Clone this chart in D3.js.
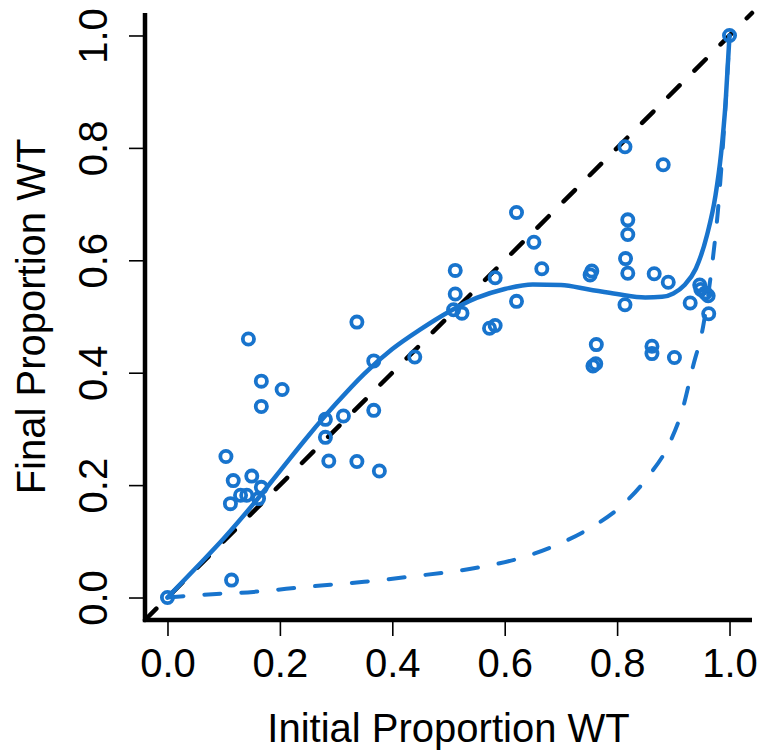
<!DOCTYPE html>
<html>
<head>
<meta charset="utf-8">
<script src="https://cdn.jsdelivr.net/npm/d3@7"></script>
<style>
body { margin: 0; background: #ffffff; }
svg { display: block; }
</style>
</head>
<body>
<svg id="chart"></svg>
<script>
var width = 761;
var height = 751;

var blue = "#1874CD";
var font = "'Liberation Sans', Arial, sans-serif";

// observed points (initial, final)
var initialWT = [0, 0.114, 0.104, 0.117, 0.112, 0.130, 0.141, 0.150, 0.162, 0.167,
	0.144, 0.167, 0.167, 0.204, 0.281, 0.281, 0.287, 0.313, 0.337, 0.337,
	0.367, 0.367, 0.377, 0.440, 0.512, 0.512, 0.509, 0.524, 0.573, 0.583,
	0.583, 0.621, 0.621, 0.652, 0.666, 0.752, 0.755, 0.757, 0.762, 0.763,
	0.814, 0.819, 0.819, 0.815, 0.819, 0.814, 0.882, 0.866, 0.891, 0.862,
	0.862, 0.902, 0.930, 0.947, 0.949, 0.957, 0.962, 0.963, 1];
var finalWT = [0, 0.031, 0.251, 0.208, 0.167, 0.182, 0.182, 0.216, 0.176, 0.196,
	0.460, 0.385, 0.340, 0.370, 0.317, 0.285, 0.243, 0.323, 0.490, 0.242,
	0.421, 0.333, 0.225, 0.428, 0.582, 0.540, 0.512, 0.506, 0.479, 0.484,
	0.569, 0.685, 0.527, 0.632, 0.585, 0.574, 0.581, 0.412, 0.416, 0.450,
	0.802, 0.672, 0.646, 0.603, 0.577, 0.521, 0.770, 0.576, 0.561, 0.447,
	0.434, 0.427, 0.524, 0.556, 0.548, 0.542, 0.537, 0.505, 1];

// fitted curve
var fitX = [0, 0.05, 0.10, 0.15, 0.20, 0.25, 0.30, 0.35, 0.40, 0.45,
	0.50, 0.55, 0.60, 0.65, 0.70, 0.75, 0.80, 0.85, 0.88, 0.90,
	0.92, 0.94, 0.96, 0.975, 0.985, 0.993, 1];
var fitY = [0, 0.052, 0.105, 0.163, 0.225, 0.287, 0.345, 0.398, 0.442, 0.477,
	0.508, 0.533, 0.549, 0.557, 0.556, 0.548, 0.540, 0.534, 0.535, 0.541,
	0.556, 0.585, 0.645, 0.715, 0.790, 0.880, 1];

// neutral expectation curve (dashed)
var nullX = [0, 0.08, 0.153, 0.247, 0.35, 0.431, 0.55, 0.62, 0.698, 0.751,
	0.81, 0.855, 0.893, 0.917, 0.935, 0.953, 0.970, 0.979, 0.990, 1];
var nullY = [0, 0.006, 0.010, 0.019, 0.028, 0.037, 0.053, 0.068, 0.096, 0.123,
	0.165, 0.215, 0.274, 0.337, 0.411, 0.482, 0.600, 0.684, 0.830, 1];

var ticks = [0, 0.2, 0.4, 0.6, 0.8, 1.0];

var svg = d3.select("#chart")
.attr("width", width)
.attr("height", height);

var x = d3.scaleLinear().domain([-0.04, 1.04]).range([145, 752]);
var y = d3.scaleLinear().domain([-0.04, 1.04]).range([620, 13]);

var fmt = d3.format(".1f");

// axes
var xAxis = svg.append("g")
.attr("transform", "translate(0," + y(-0.04) + ")")
.call(d3.axisBottom(x).tickValues(ticks).tickFormat(fmt).tickSize(16).tickSizeOuter(0));

var yAxis = svg.append("g")
.attr("transform", "translate(" + x(-0.04) + ",0)")
.call(d3.axisLeft(y).tickValues(ticks).tickFormat(fmt).tickSize(16).tickSizeOuter(0));

[xAxis, yAxis].forEach(function (g) {
	g.select(".domain").remove();
	g.selectAll(".tick line").attr("stroke", "#000").attr("stroke-width", 1.6);
	g.selectAll(".tick text")
	.attr("fill", "#000")
	.style("font-family", font)
	.style("font-size", "40px");
});

xAxis.selectAll(".tick text").attr("dy", null).attr("y", 57);

yAxis.selectAll(".tick text")
.attr("x", null).attr("dy", null)
.attr("text-anchor", "middle")
.attr("transform", "translate(-38,0) rotate(-90)");

// L-shaped box
svg.append("path")
.attr("d", "M" + x(-0.04) + "," + y(1.04) + "V" + y(-0.04) + "H" + x(1.04))
.attr("fill", "none")
.attr("stroke", "#000")
.attr("stroke-width", 4.5);

// axis titles
svg.append("text")
.attr("x", (x(-0.04) + x(1.04)) / 2)
.attr("y", 742)
.attr("text-anchor", "middle")
.style("font-family", font)
.style("font-size", "40px")
.text("Initial Proportion WT");

svg.append("text")
.attr("transform", "translate(45," + ((y(-0.04) + y(1.04)) / 2) + ") rotate(-90)")
.attr("text-anchor", "middle")
.style("font-family", font)
.style("font-size", "40px")
.text("Final Proportion WT");

// y = x reference
svg.append("line")
.attr("x1", x(-0.04)).attr("y1", y(-0.04))
.attr("x2", x(1.04)).attr("y2", y(1.04))
.attr("stroke", "#000")
.attr("stroke-width", 4.5)
.attr("stroke-linecap", "round")
.attr("stroke-dasharray", "16,21");

var line = d3.line()
.x(function (d) { return x(d[0]); })
.y(function (d) { return y(d[1]); })
.curve(d3.curveMonotoneX);

svg.append("path")
.datum(d3.zip(nullX, nullY))
.attr("d", line)
.attr("fill", "none")
.attr("stroke", blue)
.attr("stroke-width", 4)
.attr("stroke-linecap", "round")
.attr("stroke-dasharray", "16,21");

svg.append("g")
.selectAll("circle")
.data(d3.zip(initialWT, finalWT))
.enter().append("circle")
.attr("cx", function (d) { return x(d[0]); })
.attr("cy", function (d) { return y(d[1]); })
.attr("r", 5.6)
.attr("fill", "none")
.attr("stroke", blue)
.attr("stroke-width", 3.8);

svg.append("path")
.datum(d3.zip(fitX, fitY))
.attr("d", line)
.attr("fill", "none")
.attr("stroke", blue)
.attr("stroke-width", 4.5)
.attr("stroke-linecap", "round");
</script>
</body>
</html>
